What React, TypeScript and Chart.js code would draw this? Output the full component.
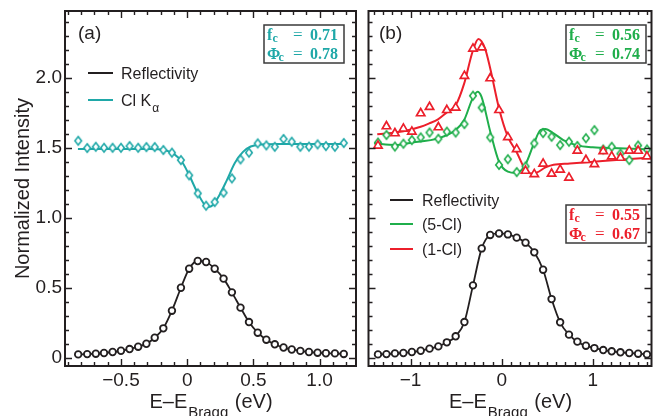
import React, { useEffect, useRef } from "react";
import { Chart, registerables } from "chart.js";
Chart.register(...registerables);

const FONT = '"Liberation Sans", Arial, Helvetica, sans-serif';
const SERIF = '"Liberation Serif", "Times New Roman", serif';
const INK = "#231f20";
const CYAN = "#1fa8a8";
const GREEN = "#1fae4b";
const RED = "#ec1f2b";

// ---------- panel (a) ----------
const leftX = [-0.823, -0.755, -0.69, -0.628, -0.563, -0.5, -0.435, -0.37, -0.308, -0.245, -0.18, -0.115, -0.047, 0.015, 0.08, 0.143, 0.208, 0.275, 0.338, 0.403, 0.467, 0.533, 0.598, 0.662, 0.728, 0.79, 0.855, 0.92, 0.985, 1.048, 1.116, 1.183];
const leftReflectivity = [0.026, 0.028, 0.031, 0.036, 0.043, 0.052, 0.064, 0.081, 0.102, 0.145, 0.212, 0.338, 0.502, 0.638, 0.693, 0.686, 0.638, 0.567, 0.469, 0.36, 0.257, 0.181, 0.131, 0.098, 0.075, 0.061, 0.051, 0.043, 0.038, 0.034, 0.033, 0.029];
const clKalpha = [1.552, 1.5, 1.509, 1.502, 1.502, 1.502, 1.514, 1.502, 1.507, 1.507, 1.486, 1.467, 1.414, 1.305, 1.176, 1.088, 1.114, 1.181, 1.283, 1.419, 1.467, 1.533, 1.519, 1.509, 1.565, 1.545, 1.509, 1.51, 1.526, 1.514, 1.509, 1.536];
const clFitX = [-0.825, -0.285, -0.173, -0.098, -0.038, 0.015, 0.075, 0.128, 0.158, 0.195, 0.24, 0.3, 0.36, 0.42, 0.48, 0.555, 0.69, 1.185];
const clFitY = [1.493, 1.493, 1.486, 1.457, 1.4, 1.307, 1.186, 1.1, 1.079, 1.093, 1.157, 1.271, 1.393, 1.471, 1.511, 1.525, 1.529, 1.529];

// ---------- panel (b) ----------
const rightX = [-1.358, -1.265, -1.172, -1.079, -0.986, -0.889, -0.792, -0.695, -0.602, -0.505, -0.409, -0.315, -0.219, -0.126, -0.029, 0.068, 0.165, 0.262, 0.358, 0.455, 0.548, 0.642, 0.739, 0.831, 0.925, 1.018, 1.115, 1.208, 1.304, 1.401, 1.498, 1.595];
const rightReflectivity = [0.026, 0.028, 0.033, 0.036, 0.043, 0.052, 0.067, 0.083, 0.112, 0.155, 0.257, 0.519, 0.783, 0.879, 0.89, 0.883, 0.86, 0.824, 0.755, 0.631, 0.421, 0.255, 0.167, 0.117, 0.088, 0.071, 0.057, 0.048, 0.041, 0.036, 0.031, 0.026];
const oneCl = [1.517, 1.655, 1.605, 1.638, 1.617, 1.748, 1.793, 1.648, 1.771, 1.788, 2.015, 2.21, 2.218, 1.998, 1.771, 1.578, 1.492, 1.337, 1.313, 1.388, 1.316, 1.345, 1.288, 1.481, 1.414, 1.385, 1.477, 1.44, 1.43, 1.481, 1.48, 1.44];
const fiveCl = [1.539, 1.593, 1.511, 1.531, 1.557, 1.576, 1.611, 1.566, 1.617, 1.611, 1.671, 1.874, 1.789, 1.576, 1.379, 1.42, 1.328, 1.369, 1.533, 1.607, 1.581, 1.521, 1.545, 1.515, 1.57, 1.628, 1.49, 1.509, 1.46, 1.414, 1.518, 1.49];
const oneClFitX = [-1.366, -1.078, -0.889, -0.796, -0.699, -0.602, -0.505, -0.412, -0.319, -0.255, -0.183, -0.126, -0.029, 0.068, 0.165, 0.247, 0.319, 0.39, 0.481, 0.57, 0.749, 1.108, 1.61];
const oneClFitY = [1.598, 1.62, 1.652, 1.676, 1.705, 1.755, 1.805, 1.96, 2.19, 2.279, 2.212, 2.07, 1.783, 1.581, 1.47, 1.36, 1.319, 1.326, 1.362, 1.381, 1.39, 1.407, 1.431];
const fiveClFitX = [-1.4, -1.169, -0.982, -0.699, -0.505, -0.412, -0.319, -0.265, -0.222, -0.125, -0.029, 0.068, 0.16, 0.258, 0.355, 0.426, 0.48, 0.57, 0.677, 0.82, 1.0, 1.287, 1.61];
const fiveClFitY = [1.533, 1.522, 1.54, 1.569, 1.629, 1.7, 1.855, 1.902, 1.867, 1.617, 1.402, 1.331, 1.322, 1.379, 1.533, 1.629, 1.636, 1.605, 1.557, 1.521, 1.505, 1.498, 1.49];

// ---------- ticks ----------
const yTicks = [0, 0.5, 1.0, 1.5, 2.0];
const yTickLabels = ["0", "0.5", "1.0", "1.5", "2.0"];
const yMinor = [0.1, 0.2, 0.3, 0.4, 0.6, 0.7, 0.8, 0.9, 1.1, 1.2, 1.3, 1.4, 1.6, 1.7, 1.8, 1.9, 2.1, 2.2, 2.3, 2.4];
const leftXTicks = [-0.5, 0, 0.5, 1.0];
const leftXTickLabels = ["\u22120.5", "0", "0.5", "1.0"];
const leftXMinor = [-0.9, -0.8, -0.7, -0.6, -0.4, -0.3, -0.2, -0.1, 0.1, 0.2, 0.3, 0.4, 0.6, 0.7, 0.8, 0.9, 1.1, 1.2];
const rightXTicks = [-1, 0, 1];
const rightXTickLabels = ["\u22121", "0", "1"];
const rightXMinor = [-1.4, -1.3, -1.2, -1.1, -0.9, -0.8, -0.7, -0.6, -0.5, -0.4, -0.3, -0.2, -0.1, 0.1, 0.2, 0.3, 0.4, 0.5, 0.6, 0.7, 0.8, 0.9, 1.1, 1.2, 1.3, 1.4, 1.5, 1.6];

const Y_MIN = -0.057;
const Y_MAX = 2.479;
const LEFT_X_MIN = -0.9227;
const LEFT_X_MAX = 1.2753;
const RIGHT_X_MIN = -1.462;
const RIGHT_X_MAX = 1.645;

const pts = (xs: number[], ys: number[]) => xs.map((x, i) => ({ x, y: ys[i] }));

function makeDiamond(color: string) {
  const c = document.createElement("canvas");
  c.width = 12;
  c.height = 14;
  const g = c.getContext("2d")!;
  g.beginPath();
  g.moveTo(6, 7 - 4.3);
  g.lineTo(6 + 3.3, 7);
  g.lineTo(6, 7 + 4.3);
  g.lineTo(6 - 3.3, 7);
  g.closePath();
  g.fillStyle = "#fff";
  g.fill();
  g.lineWidth = 1.6;
  g.strokeStyle = color;
  g.stroke();
  return c;
}

function xScale(min: number, max: number, ticks: number[], labels: string[]) {
  return {
    type: "linear",
    position: "bottom",
    min,
    max,
    grid: { display: false, drawTicks: false },
    border: { display: false },
    afterBuildTicks: (s: any) => {
      s.ticks = ticks.map((v) => ({ value: v }));
    },
    afterFit: (s: any) => {
      s.height = 50;
      s.paddingLeft = 0;
      s.paddingRight = 0;
    },
    ticks: {
      autoSkip: false,
      maxRotation: 0,
      minRotation: 0,
      padding: 3,
      color: INK,
      font: { family: FONT, size: 19 },
      callback: (_v: any, i: number) => labels[i],
    },
  };
}

function drawFrame(chart: any, xMajor: number[], xMinor: number[]) {
  const { ctx, chartArea: a, scales } = chart;
  const xs = scales.x;
  const ys = scales.y;
  ctx.save();
  ctx.strokeStyle = INK;
  ctx.lineWidth = 1.4;
  ctx.beginPath();
  const vx = (vals: number[], len: number) => {
    vals.forEach((v) => {
      const p = Math.round(xs.getPixelForValue(v)) + 0.5;
      ctx.moveTo(p, a.bottom);
      ctx.lineTo(p, a.bottom - len);
      ctx.moveTo(p, a.top);
      ctx.lineTo(p, a.top + len);
    });
  };
  const vy = (vals: number[], len: number) => {
    vals.forEach((v) => {
      const p = Math.round(ys.getPixelForValue(v)) + 0.5;
      ctx.moveTo(a.left, p);
      ctx.lineTo(a.left + len, p);
      ctx.moveTo(a.right, p);
      ctx.lineTo(a.right - len, p);
    });
  };
  vx(xMajor, 7);
  vx(xMinor, 4);
  vy(yTicks, 7);
  vy(yMinor, 4);
  ctx.stroke();
  ctx.lineWidth = 2;
  ctx.strokeRect(a.left, a.top, a.right - a.left, a.bottom - a.top);
  ctx.restore();
}

function drawXTitle(chart: any) {
  const { ctx, chartArea: a } = chart;
  ctx.save();
  ctx.fillStyle = INK;
  ctx.textBaseline = "alphabetic";
  ctx.textAlign = "left";
  const main = `20px ${FONT}`;
  const sub = `15px ${FONT}`;
  ctx.font = main;
  const t1 = "E\u2013E";
  const t3 = " (eV)";
  const w1 = ctx.measureText(t1).width;
  const w3 = ctx.measureText(t3).width;
  ctx.font = sub;
  const t2 = "Bragg";
  const w2 = ctx.measureText(t2).width + 1;
  const cx = (a.left + a.right) / 2;
  let x = cx - (w1 + w2 + w3) / 2;
  ctx.font = main;
  ctx.fillText(t1, x, 408);
  x += w1 + 1;
  ctx.font = sub;
  ctx.fillText(t2, x, 417);
  x += w2;
  ctx.font = main;
  ctx.fillText(t3, x, 408);
  ctx.restore();
}

function drawParamBox(ctx: CanvasRenderingContext2D, x: number, y: number, color: string, fVal: string, phiVal: string) {
  ctx.save();
  ctx.fillStyle = "#fff";
  ctx.fillRect(x, y, 80, 38);
  ctx.strokeStyle = "#3a3a3a";
  ctx.lineWidth = 1.5;
  ctx.strokeRect(x, y, 80, 38);
  ctx.fillStyle = color;
  ctx.textBaseline = "alphabetic";
  ctx.textAlign = "left";
  const big = `bold 16px ${SERIF}`;
  const sub = `bold 12px ${SERIF}`;
  const eq = `17px ${SERIF}`;
  ctx.font = big;
  ctx.fillText("f", x + 3, y + 14.5);
  ctx.font = sub;
  ctx.fillText("c", x + 8.5, y + 16.5);
  ctx.font = eq;
  ctx.fillText("=", x + 29, y + 14.5);
  ctx.font = big;
  ctx.fillText(fVal, x + 46, y + 14.5);
  ctx.fillText("\u03A6", x + 3, y + 33.5);
  ctx.font = sub;
  ctx.fillText("c", x + 14.5, y + 35.5);
  ctx.font = eq;
  ctx.fillText("=", x + 29, y + 33.5);
  ctx.font = big;
  ctx.fillText(phiVal, x + 46, y + 33.5);
  ctx.restore();
}

function legendLine(ctx: CanvasRenderingContext2D, x0: number, x1: number, y: number, color: string) {
  ctx.save();
  ctx.strokeStyle = color;
  ctx.lineWidth = 2;
  ctx.beginPath();
  ctx.moveTo(x0, y);
  ctx.lineTo(x1, y);
  ctx.stroke();
  ctx.restore();
}

export default function App() {
  const leftRef = useRef<HTMLCanvasElement>(null);
  const rightRef = useRef<HTMLCanvasElement>(null);

  useEffect(() => {
    const charts: Chart[] = [];
    const cyanDiamond = makeDiamond(CYAN);
    const greenDiamond = makeDiamond(GREEN);

    const lineDs = (data: any, color: string, order: number) => ({
      data,
      showLine: true,
      borderColor: color,
      borderWidth: 2,
      pointRadius: 0,
      tension: 0.4,
      cubicInterpolationMode: "monotone",
      order,
    });

    const reflDs = (data: any) => ({
      data,
      showLine: true,
      borderColor: INK,
      borderWidth: 1.8,
      pointRadius: 3.3,
      pointBorderWidth: 1.8,
      pointBorderColor: INK,
      pointBackgroundColor: "#fff",
      tension: 0.3,
      cubicInterpolationMode: "monotone",
      order: 0,
    });

    const common = {
      animation: false,
      responsive: false,
      maintainAspectRatio: false,
      events: [],
      plugins: { legend: { display: false }, tooltip: { enabled: false }, title: { display: false } },
    };

    if (leftRef.current) {
      const left = new Chart(leftRef.current, {
        type: "scatter",
        data: {
          datasets: [
            reflDs(pts(leftX, leftReflectivity)),
            {
              data: pts(leftX, clKalpha),
              showLine: false,
              pointStyle: cyanDiamond,
              pointRadius: 5,
              order: 1,
            },
            lineDs(pts(clFitX, clFitY), CYAN, 5),
          ],
        },
        options: {
          ...common,
          layout: { padding: { left: 0, right: 4, top: 11, bottom: 0 } },
          scales: {
            x: xScale(LEFT_X_MIN, LEFT_X_MAX, leftXTicks, leftXTickLabels),
            y: {
              type: "linear",
              min: Y_MIN,
              max: Y_MAX,
              grid: { display: false, drawTicks: false },
              border: { display: false },
              afterBuildTicks: (s: any) => {
                s.ticks = yTicks.map((v) => ({ value: v }));
              },
              afterFit: (s: any) => {
                s.width = 65;
                s.paddingTop = 0;
                s.paddingBottom = 0;
              },
              ticks: {
                autoSkip: false,
                padding: 3,
                color: INK,
                font: { family: FONT, size: 19 },
                callback: (_v: any, i: number) => yTickLabels[i],
              },
            },
          },
        },
        plugins: [
          {
            id: "decorA",
            afterDraw(chart: any) {
              const ctx = chart.ctx as CanvasRenderingContext2D;
              drawFrame(chart, leftXTicks, leftXMinor);
              drawXTitle(chart);
              ctx.save();
              ctx.fillStyle = INK;
              ctx.textBaseline = "alphabetic";
              ctx.font = `20px ${FONT}`;
              ctx.translate(28.5, 188.5);
              ctx.rotate(-Math.PI / 2);
              ctx.textAlign = "center";
              ctx.fillText("Normalized Intensity", 0, 0);
              ctx.restore();
              ctx.save();
              ctx.fillStyle = INK;
              ctx.textAlign = "left";
              ctx.textBaseline = "alphabetic";
              ctx.font = `19px ${FONT}`;
              ctx.fillText("(a)", 78, 39);
              ctx.font = `16px ${FONT}`;
              ctx.fillText("Reflectivity", 121, 79);
              ctx.fillText("Cl K", 121, 106);
              const wk = ctx.measureText("Cl K").width;
              ctx.font = `12px ${FONT}`;
              ctx.fillText("\u03B1", 121 + wk + 1, 112);
              ctx.restore();
              legendLine(ctx, 88, 113, 73, INK);
              legendLine(ctx, 88, 113, 100, CYAN);
              drawParamBox(ctx, 264, 25, CYAN, "0.71", "0.78");
            },
          },
        ],
      } as any);
      charts.push(left);
    }

    if (rightRef.current) {
      const right = new Chart(rightRef.current, {
        type: "scatter",
        data: {
          datasets: [
            reflDs(pts(rightX, rightReflectivity)),
            {
              data: pts(rightX, oneCl),
              showLine: false,
              pointStyle: "triangle",
              pointRadius: 4.8,
              pointBorderWidth: 1.7,
              pointBorderColor: RED,
              pointBackgroundColor: "#fff",
              order: 1,
            },
            {
              data: pts(rightX, fiveCl),
              showLine: false,
              pointStyle: greenDiamond,
              pointRadius: 5,
              order: 2,
            },
            lineDs(pts(oneClFitX, oneClFitY), RED, 5),
            lineDs(pts(fiveClFitX, fiveClFitY), GREEN, 6),
          ],
        },
        options: {
          ...common,
          layout: { padding: { left: 4, right: 3, top: 11, bottom: 0 } },
          scales: {
            x: xScale(RIGHT_X_MIN, RIGHT_X_MAX, rightXTicks, rightXTickLabels),
            y: {
              type: "linear",
              display: false,
              min: Y_MIN,
              max: Y_MAX,
            },
          },
        },
        plugins: [
          {
            id: "decorB",
            afterDraw(chart: any) {
              const ctx = chart.ctx as CanvasRenderingContext2D;
              drawFrame(chart, rightXTicks, rightXMinor);
              drawXTitle(chart);
              ctx.save();
              ctx.fillStyle = INK;
              ctx.textAlign = "left";
              ctx.textBaseline = "alphabetic";
              ctx.font = `19px ${FONT}`;
              ctx.fillText("(b)", 17, 39);
              ctx.font = `16px ${FONT}`;
              ctx.fillText("Reflectivity", 60, 206);
              ctx.fillText("(5-Cl)", 60, 230);
              ctx.fillText("(1-Cl)", 60, 255);
              ctx.restore();
              legendLine(ctx, 28, 51, 200, INK);
              legendLine(ctx, 28, 51, 224, GREEN);
              legendLine(ctx, 28, 51, 249, RED);
              drawParamBox(ctx, 204, 25, GREEN, "0.56", "0.74");
              drawParamBox(ctx, 204, 205, RED, "0.55", "0.67");
            },
          },
        ],
      } as any);
      charts.push(right);
    }

    return () => charts.forEach((c) => c.destroy());
  }, []);

  return (
    <div style={{ position: "fixed", left: 0, top: 0, width: 658, height: 416, background: "#fff", overflow: "hidden" }}>
      <canvas ref={leftRef} width={362} height={416} style={{ position: "absolute", left: 0, top: 0, width: 362, height: 416 }} />
      <canvas ref={rightRef} width={296} height={416} style={{ position: "absolute", left: 362, top: 0, width: 296, height: 416 }} />
    </div>
  );
}
